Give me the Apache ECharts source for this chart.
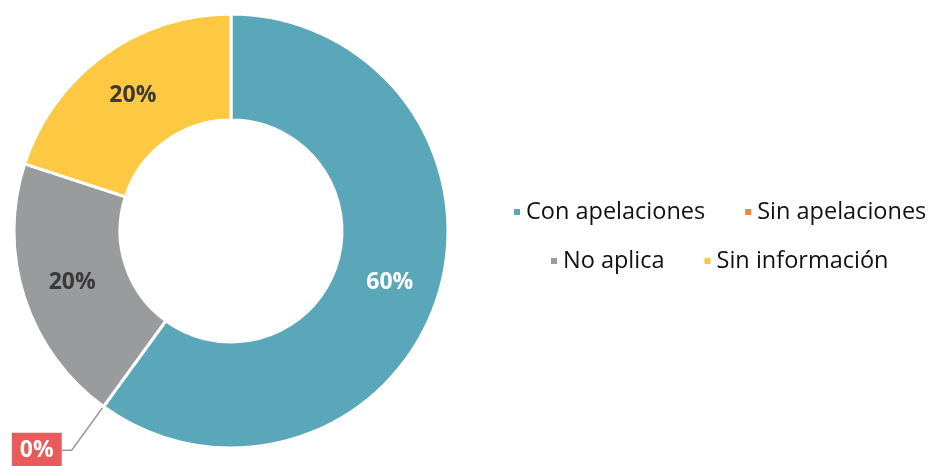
<!DOCTYPE html>
<html><head><meta charset="utf-8">
<script src="https://cdn.jsdelivr.net/npm/echarts@6/dist/echarts.min.js"></script>
<style>html,body{margin:0;padding:0;background:#fff}#c{width:934px;height:466px}</style>
</head><body><div id="c"></div>
<script>
const categories = ['Con apelaciones', 'Sin apelaciones', 'No aplica', 'Sin información'];
const values = [60, 0, 20, 20];
const colors = ['#5BA7BA', '#F0833F', '#9A9B9C', '#FDC942'];
const labelColors = ['#ffffff', '#ffffff', '#3a3a3a', '#3a3a3a'];

const font = 'Open Sans';
const data = categories.map((name, i) => {
  const d = { name, value: values[i], itemStyle: { color: colors[i] },
    label: { color: labelColors[i] } };
  if (values[i] === 0) {
    d.label = { position: 'outside', color: '#ffffff', backgroundColor: '#E95A5B',
      padding: [7, 8, 5, 8], fontSize: 23, fontWeight: 'bold', distanceToLabelLine: 0 };
    d.labelLine = { show: true, length: 54, length2: 10,
      lineStyle: { color: '#9a9a9a', width: 1.5 } };
  }
  return d;
});

const legendText = { fontFamily: font, fontSize: 23.5, color: '#111111' };
const chart = echarts.init(document.getElementById('c'), null, { renderer: 'canvas' });
chart.setOption({
  animation: false,
  legend: [
    { data: categories.slice(0, 2), left: 512, top: 200, width: 460, itemWidth: 8, itemHeight: 8, itemGap: 38,
      padding: 0, icon: 'rect', textStyle: legendText },
    { data: categories.slice(2), left: 549, top: 249, width: 460, itemWidth: 8, itemHeight: 8, itemGap: 38,
      padding: 0, icon: 'rect', textStyle: legendText }
  ],
  series: [{
    type: 'pie',
    center: [231, 231],
    radius: [111, 217],
    startAngle: 90,
    clockwise: true,
    avoidLabelOverlap: false,
    itemStyle: { borderColor: '#ffffff', borderWidth: 3 },
    label: { show: true, position: 'inside', formatter: '{c}%', fontFamily: font,
      fontSize: 23, fontWeight: 'bold' },
    labelLine: { show: false },
    emphasis: { disabled: true },
    data
  }]
});
</script></body></html>
